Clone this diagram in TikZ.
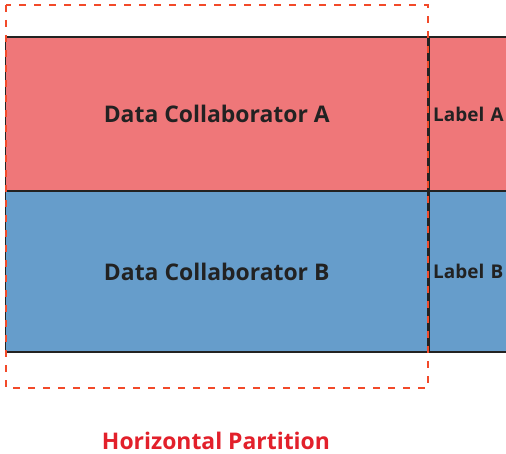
\documentclass[tikz,border=0pt]{standalone}
\usepackage{fontspec}
\setmainfont{Open Sans}
\definecolor{rowA}{HTML}{EF7779}
\definecolor{rowB}{HTML}{669DCB}
\definecolor{edge}{HTML}{222222}
\definecolor{dash}{HTML}{F24A2A}
\definecolor{title}{HTML}{E2202B}
\tikzset{every node/.style={rectangle,draw=edge,line width=1.2bp,inner sep=0pt,text=edge,font=\bfseries\fontsize{23}{27}\selectfont}}
\tikzset{cell/.style={minimum width=422.5bp,minimum height=154bp}}
\tikzset{lab/.style={text width=92bp,inner xsep=4bp,align=left,minimum height=154bp,font=\bfseries\fontsize{19}{22}\selectfont}}
\tikzset{part/.style={draw=dash,line width=2.8bp,dash pattern=on 7bp off 8bp}}

\begin{document}
\begin{tikzpicture}[x=1bp,y=-1bp]
      \useasboundingbox (0,0) rectangle (506,454);
      \node[cell,fill=rowA] (A) at (216.75,114) {Data Collaborator A};
      \node[cell,fill=rowB,minimum height=161bp] (B) at (216.75,271.5) {Data Collaborator B};
      \node[lab,fill=rowA,anchor=west] (labA) at (A.east) {Label A};
      \node[lab,fill=rowB,minimum height=161bp,anchor=west] (labB) at (B.east) {Label B};
        \draw[part] (6,5) rectangle (428,388);
      \node[draw=none,text=title] (p) at (216,441) {Horizontal Partition};
    \end{tikzpicture}
\end{document}
